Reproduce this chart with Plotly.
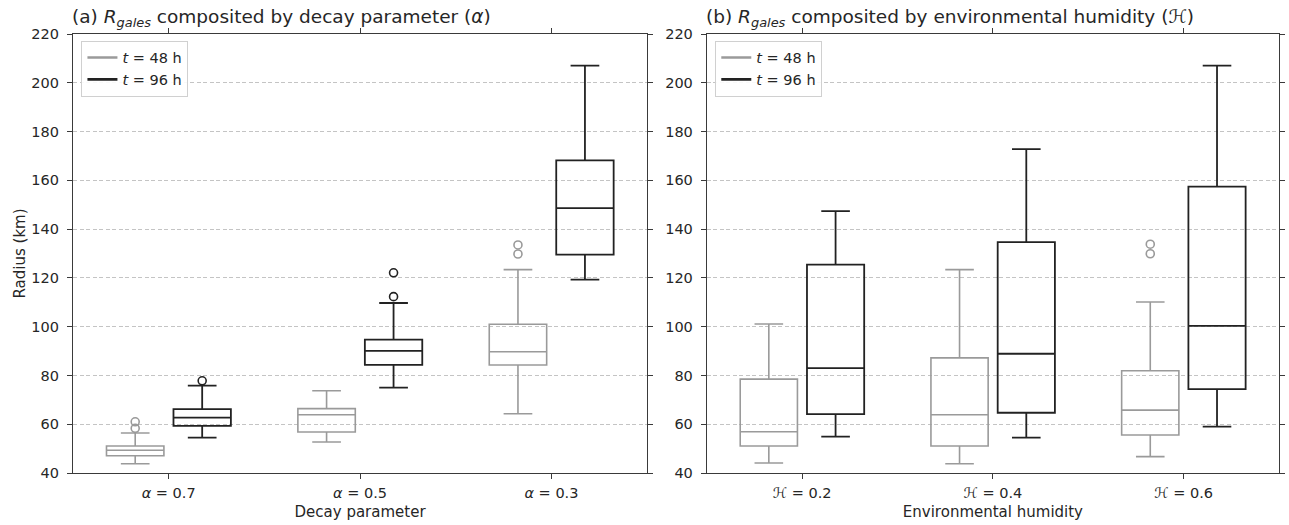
import numpy as np
import plotly.graph_objects as go

# ---------------- data ----------------
cats_a = ["<i>α</i> = 0.7", "<i>α</i> = 0.5", "<i>α</i> = 0.3"]
cats_b = ["ℋ = 0.2", "ℋ = 0.4", "ℋ = 0.6"]
series_names = ["<i>t</i> = 48 h", "<i>t</i> = 96 h"]

# panel (a): decay parameter
a48_low = [43.8, 52.7, 64.3]
a48_q1 = [47.1, 56.8, 84.3]
a48_med = [49.3, 63.9, 89.7]
a48_q3 = [51.1, 66.4, 101.0]
a48_up = [56.4, 73.7, 123.4]
a48_fliers = [[61.0, 58.3], [], [133.5, 129.8]]

a96_low = [54.5, 75.0, 119.3]
a96_q1 = [59.3, 84.3, 129.5]
a96_med = [62.7, 90.1, 148.6]
a96_q3 = [66.2, 94.7, 168.2]
a96_up = [75.8, 109.7, 207.0]
a96_fliers = [[77.8], [122.1, 112.3], []]

# panel (b): environmental humidity
b48_low = [44.1, 43.8, 46.7]
b48_q1 = [51.1, 51.1, 55.6]
b48_med = [56.9, 63.9, 65.8]
b48_q3 = [78.5, 87.2, 81.9]
b48_up = [101.1, 123.4, 110.1]
b48_fliers = [[], [], [133.8, 129.9]]

b96_low = [54.9, 54.5, 59.0]
b96_q1 = [64.1, 64.7, 74.4]
b96_med = [83.0, 88.9, 100.3]
b96_q3 = [125.4, 134.7, 157.4]
b96_up = [147.4, 172.8, 207.0]
b96_fliers = [[], [], []]

yticks = [40, 60, 80, 100, 120, 140, 160, 180, 200, 220]

# ---------------- styling ----------------
C48 = "#9a9a9a"
C96 = "#222222"
OFFSET = 0.175
BOXW = 0.30
FONT = "DejaVu Sans"
AX = "#3a3a3a"
TXT = "#262626"

fig = go.Figure()

def add_boxes(xa, ya, pos, low, q1, med, q3, up, fliers, color, lw):
    fig.add_trace(go.Box(
        x=list(pos), lowerfence=low, q1=q1, median=med, q3=q3, upperfence=up,
        width=BOXW, whiskerwidth=0.5, boxpoints=False,
        line=dict(color=color, width=lw), fillcolor="rgba(0,0,0,0)",
        xaxis=xa, yaxis=ya, showlegend=False, hoverinfo="skip"))
    fx, fy = [], []
    for p, fl in zip(pos, fliers):
        for v in fl:
            fx.append(p)
            fy.append(v)
    if fx:
        fig.add_trace(go.Scatter(
            x=fx, y=fy, mode="markers", xaxis=xa, yaxis=ya, showlegend=False,
            marker=dict(symbol="circle-open", size=8, color=color,
                        line=dict(width=1.6, color=color)), hoverinfo="skip"))

base = np.arange(3)
add_boxes("x", "y", base - OFFSET, a48_low, a48_q1, a48_med, a48_q3, a48_up, a48_fliers, C48, 1.6)
add_boxes("x", "y", base + OFFSET, a96_low, a96_q1, a96_med, a96_q3, a96_up, a96_fliers, C96, 1.8)
add_boxes("x2", "y2", base - OFFSET, b48_low, b48_q1, b48_med, b48_q3, b48_up, b48_fliers, C48, 1.6)
add_boxes("x2", "y2", base + OFFSET, b96_low, b96_q1, b96_med, b96_q3, b96_up, b96_fliers, C96, 1.8)

# legend proxies
for lg, xa, ya in [("legend", "x", "y"), ("legend2", "x2", "y2")]:
    for name, col in zip(series_names, [C48, C96]):
        fig.add_trace(go.Scatter(x=[None], y=[None], mode="lines", name=name,
                                 line=dict(color=col, width=2.6),
                                 xaxis=xa, yaxis=ya, legend=lg))

W, H = 1289, 525
L, R, T, B = 73, 4, 34, 52
pw = W - L - R
dom_a = [0, (650 - L) / pw]
dom_b = [(710 - L) / pw, 1]

def xaxis(dom, labels, title, anchor):
    return dict(domain=dom, range=[-0.5, 2.5], tickvals=list(range(3)), ticktext=labels,
                ticks="outside", ticklen=5, tickwidth=1.2, tickcolor=AX,
                showline=True, linecolor=AX, linewidth=1.2, mirror="ticks",
                showgrid=False, zeroline=False, anchor=anchor,
                tickfont=dict(size=14.5, color=TXT), ticklabelstandoff=1,
                title=dict(text=title, font=dict(size=15, color=TXT), standoff=6))

def yaxis(anchor, title=None):
    d = dict(range=[40, 220], tickvals=yticks, ticks="outside", ticklen=5, tickwidth=1.2,
             tickcolor=AX, showline=True, linecolor=AX, linewidth=1.2, mirror="ticks",
             showgrid=True, gridcolor="#c4c4c4", gridwidth=0.8, griddash="4px,2.5px",
             zeroline=False, anchor=anchor, tickfont=dict(size=14.5, color=TXT),
             ticklabelstandoff=5)
    if title:
        d["title"] = dict(text=title, font=dict(size=15, color=TXT), standoff=2)
    return d

legend_common = dict(bgcolor="rgba(255,255,255,0.9)", bordercolor="#d0d0d0", borderwidth=1,
                     font=dict(size=14.5, color=TXT), xanchor="left", yanchor="top",
                     tracegroupgap=0, itemwidth=30)

fig.update_layout(
    width=W, height=H, margin=dict(l=L, r=R, t=T, b=B),
    paper_bgcolor="white", plot_bgcolor="white",
    font=dict(family=FONT, color=TXT),
    boxmode="overlay",
    xaxis=xaxis(dom_a, cats_a, "Decay parameter", "y"),
    xaxis2=xaxis(dom_b, cats_b, "Environmental humidity", "y2"),
    yaxis=yaxis("x", "Radius (km)"),
    yaxis2=yaxis("x2"),
    legend=dict(x=0.007, y=0.985, **legend_common),
    legend2=dict(x=dom_b[0] + 0.007, y=0.985, **legend_common),
    annotations=[
        dict(text="(a) <i>R</i><sub><i>gales</i></sub> composited by decay parameter (<i>α</i>)",
             xref="x domain", yref="y domain", x=0, y=1, xanchor="left", yanchor="bottom",
             xshift=-3, yshift=2, showarrow=False, font=dict(size=18.5, color=TXT)),
        dict(text="(b) <i>R</i><sub><i>gales</i></sub> composited by environmental humidity (ℋ)",
             xref="x2 domain", yref="y2 domain", x=0, y=1, xanchor="left", yanchor="bottom",
             xshift=-3, yshift=2, showarrow=False, font=dict(size=18.5, color=TXT)),
    ],
)

fig.write_html("out.html")
